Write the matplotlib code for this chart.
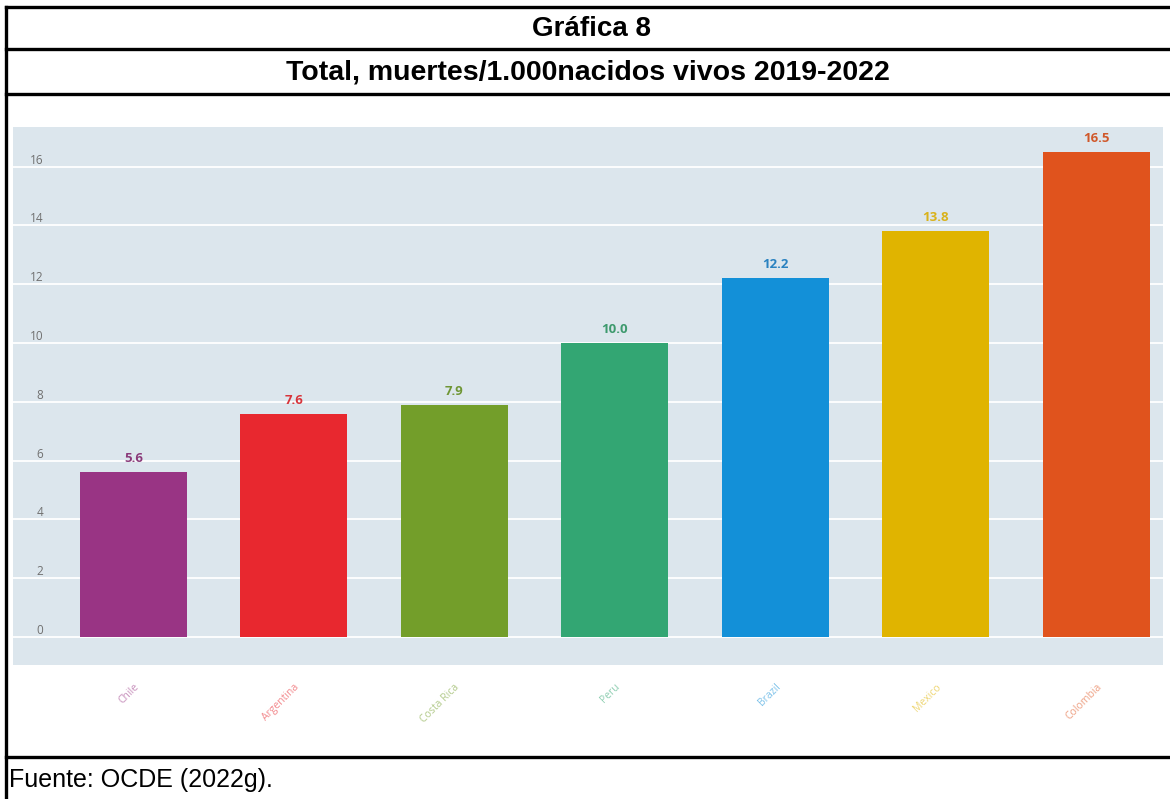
import matplotlib.pyplot as plt

# Datos: muertes por cada 1.000 nacidos vivos
paises = ['Chile', 'Argentina', 'Costa Rica', 'Peru', 'Brazil', 'Mexico', 'Colombia']
valores = [5.6, 7.6, 7.9, 10.0, 12.2, 13.8, 16.5]
colores = ['#993484', '#e8282f', '#739e2a', '#33a673', '#1390d8', '#e0b400', '#e0531d']
colores_texto = ['#8a3a7a', '#d8343a', '#6f9635', '#3e9a6e', '#2a82c0', '#d9b21a', '#d0582a']
ticks_y = [0, 2, 4, 6, 8, 10, 12, 14, 16]

W, H = 1170, 799
fig = plt.figure(figsize=(W / 100, H / 100), dpi=100)
fig.patch.set_facecolor('white')

# Área del gráfico
ax = fig.add_axes([13 / W, (H - 665) / H, (1163 - 13) / W, (665 - 127) / H])
ax.set_facecolor('#dce6ed')
x = list(range(len(paises)))
ax.bar(x, valores, width=0.667, color=colores, zorder=3)

for xi, v, c in zip(x, valores, colores_texto):
    ax.annotate(f'{v:.1f}', (xi, v), xytext=(0, 5), textcoords='offset points',
                ha='center', va='bottom', fontsize=9.5, fontweight='bold', color=c,
                family='Open Sans')

ax.set_xlim(-0.75, 6.417)
ax.set_ylim(-0.95, 17.35)
ax.set_yticks(ticks_y)
ax.set_yticklabels([str(t) for t in ticks_y])
ax.grid(axis='y', color='white', linewidth=1.3, zorder=1)
ax.tick_params(axis='y', length=0, pad=-22, labelsize=8.5, labelcolor='#707070')
for lab in ax.get_yticklabels():
    lab.set_va('bottom')
    lab.set_family('Open Sans')

ax.set_xticks(x)
ax.set_xticklabels(paises, rotation=45, ha='right', rotation_mode='anchor',
                   fontsize=7.5, family='Open Sans')
for lab, c in zip(ax.get_xticklabels(), colores):
    lab.set_color(c)
    lab.set_alpha(0.55)
ax.tick_params(axis='x', length=0, pad=12)
for s in ax.spines.values():
    s.set_visible(False)

# Marco de la tabla
def linea_h(y):
    fig.add_artist(plt.Line2D([6 / W, 1], [1 - y / H, 1 - y / H], color='black', lw=2.4))

for y in [7, 49, 94, 757]:
    linea_h(y)
fig.add_artist(plt.Line2D([6 / W, 6 / W], [0, 1 - 7 / H], color='black', lw=2.4))

fig.text(592 / W, 1 - 36 / H, 'Gráfica 8', ha='center', va='baseline',
         fontsize=20, fontweight='bold', family='Liberation Sans')
fig.text(588 / W, 1 - 79 / H, 'Total, muertes/1.000nacidos vivos 2019-2022',
         ha='center', va='baseline', fontsize=20.5, fontweight='bold', family='Liberation Sans')
fig.text(9 / W, 1 - 787 / H, 'Fuente: OCDE (2022g).', ha='left', va='baseline',
         fontsize=18, family='Liberation Sans')

fig.savefig('out.png', dpi=100)
